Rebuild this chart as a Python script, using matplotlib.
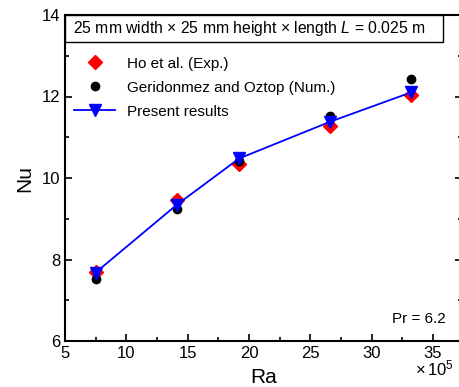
import numpy as np
import matplotlib
matplotlib.use('Agg')
import matplotlib.pyplot as plt
from matplotlib.ticker import MultipleLocator
from matplotlib.patches import Rectangle

plt.rcParams['font.family'] = ['Liberation Sans', 'DejaVu Sans']
plt.rcParams['mathtext.fontset'] = 'custom'
plt.rcParams['mathtext.it'] = 'Liberation Sans:italic'
plt.rcParams['mathtext.rm'] = 'Liberation Sans'

# DATA (Ra in units of 1e5)
ra_ho = [7.5, 14.1, 19.2, 26.6, 33.2]
nu_ho = [7.70, 9.46, 10.34, 11.28, 12.04]

ra_geri = [7.5, 14.1, 19.2, 26.6, 33.2]
nu_geri = [7.51, 9.23, 10.42, 11.53, 12.43]

ra_present = [7.5, 14.1, 19.2, 26.6, 33.2]
nu_present = [7.68, 9.34, 10.48, 11.38, 12.10]

fig = plt.figure(figsize=(4.6, 3.87), dpi=100)
ax = fig.add_axes([65 / 460, 46 / 387, 397 / 460, 326 / 387])

ax.plot(ra_ho, nu_ho, 'D', color='red', ms=7.5, label='Ho et al. (Exp.)', zorder=2)
ax.plot(ra_geri, nu_geri, 'o', color='black', ms=6, label='Geridonmez and Oztop (Num.)', zorder=3)
ax.plot(ra_present, nu_present, 'v-', color='blue', ms=8.5, lw=1.3, label='Present results', zorder=4)

ax.set_xlim(5, 37.36)
ax.set_ylim(6, 14)
ax.xaxis.set_major_locator(MultipleLocator(5))
ax.xaxis.set_minor_locator(MultipleLocator(2.5))
ax.yaxis.set_major_locator(MultipleLocator(2))
ax.yaxis.set_minor_locator(MultipleLocator(1))
ax.tick_params(which='both', direction='in', right=True, top=False, labelsize=12, width=1.2)
ax.tick_params(which='major', length=5)
ax.tick_params(which='minor', length=3)
for s in ax.spines.values():
    s.set_linewidth(1.5)

ax.set_xlabel('Ra', fontsize=15, labelpad=5)
ax.set_ylabel('Nu', fontsize=15, labelpad=5)

fig.text(434 / 460, 1 - 368 / 387, r'$\times\,10^5$', fontsize=12, ha='center', va='center')

# title box
bx1 = (443 - 65) / 397
by0 = (341 - 42) / 326
ax.add_patch(Rectangle((0, by0), bx1, 1 - by0, transform=ax.transAxes,
                       fc='white', ec='black', lw=1.0, zorder=5, clip_on=False))
ax.text((73 - 65) / 397, (341 - 28.5) / 326,
        r'25 mm width $\times$ 25 mm height $\times$ length $L$ = 0.025 m',
        transform=ax.transAxes, fontsize=11.3, ha='left', va='center', zorder=6)

ax.text((446 - 65) / 397, 0.067, 'Pr = 6.2', transform=ax.transAxes, fontsize=11,
        ha='right', va='center')

ax.legend(loc='upper left', bbox_to_anchor=(0.0, 0.90), frameon=False, fontsize=11,
          handlelength=2.7, handletextpad=0.75, labelspacing=0.65, numpoints=1,
          borderaxespad=0.2)

plt.savefig('out.png', dpi=100)
